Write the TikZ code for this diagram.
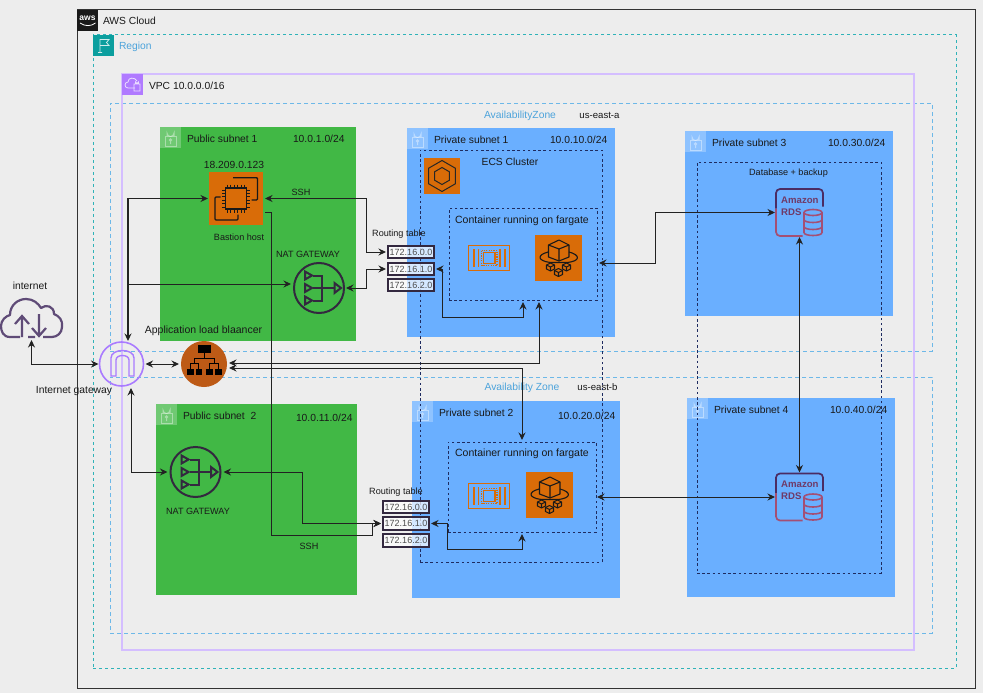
\documentclass[tikz,border=0pt]{standalone}
\usepackage{fontspec}
\setmainfont{Liberation Sans}
\usetikzlibrary{arrows.meta,shapes.geometric}
\definecolor{bgc}{HTML}{EDEDED}
\definecolor{greenc}{HTML}{41B845}
\definecolor{bluec}{HTML}{6AAFFF}
\definecolor{regionc}{HTML}{2FB2B8}
\definecolor{azc}{HTML}{6DB8E8}
\definecolor{vpcc}{HTML}{D4BEFF}
\definecolor{vpcfill}{HTML}{B07AFF}
\definecolor{tealc}{HTML}{0B9E9E}
\definecolor{labelb}{HTML}{4CA3DB}
\definecolor{orangec}{HTML}{D96C08}
\definecolor{albc}{HTML}{BD5A16}
\definecolor{natc}{HTML}{33283F}
\definecolor{cloudc}{HTML}{5F4B77}
\definecolor{igwc}{HTML}{A97BFF}
\definecolor{linec}{HTML}{222222}
\definecolor{dashc}{HTML}{1E2B60}
\definecolor{rdslow}{HTML}{A44F74}
\definecolor{rdsmid}{HTML}{6F3A68}
\definecolor{rdstop}{HTML}{4B2C63}
\newcommand\szt[1]{\fontsize{#1pt}{#1pt}\selectfont}
\newcommand\zonebox[6]{\node[#1,anchor=north west,minimum width=#4 pt,minimum height=#5 pt] (#2) at (#3) {#6};}
\tikzset{
  >={Stealth[length=7.5pt,width=7pt]},
  base/.style={inner sep=0pt,outer sep=0pt,rectangle},
  cloudbox/.style={base,draw=black!80,line width=1pt},
  regionbox/.style={base,draw=regionc,line width=1pt,dash pattern=on 3pt off 3pt},
  azbox/.style={base,draw=azc,line width=1pt,dash pattern=on 4pt off 3pt},
  vpcbox/.style={base,draw=vpcc,line width=1.4pt},
  pubnet/.style={base,fill=greenc},
  privnet/.style={base,fill=bluec},
  dashbox/.style={base,draw=dashc,line width=.9pt,dash pattern=on 2.6pt off 2.6pt},
  orangebox/.style={base,fill=orangec},
  lbl/.style={inner sep=0pt,outer sep=0pt,anchor=west,font=\szt{10.3},text=black!90},
  lblc/.style={inner sep=0pt,outer sep=0pt,font=\szt{10.3},text=black!90},
  lbls/.style={lblc,font=\szt{9.1}},
  azlbl/.style={lblc,text=labelb},
  rtbox/.style={base,draw=natc,line width=2pt,fill=white,fill opacity=.72,text opacity=1,minimum width=46pt,minimum height=12.5pt,font=\szt{9},text=black!70},
  conn/.style={draw=linec,line width=1pt},
  natnode/.style={circle,inner sep=0pt,outer sep=0pt,draw=natc,line width=2pt,minimum size=50pt},
  lockpic/.pic={
    \fill[white,opacity=.25] (0,0) rectangle (21,21);
    \draw[white,opacity=.4,line width=1pt] (5,9) rectangle (16,19);
    \draw[white,opacity=.4,line width=1pt] (7,9) -- (7,6) arc[start angle=180,end angle=360,radius=3.5,y radius=-3.5] -- (14,9);
    \draw[white,opacity=.4,line width=1pt] (10.5,13) circle (1.2) (10.5,14.2) -- (10.5,17);
  },
  natglyph/.pic={
    \begin{scope}[draw=natc,line width=2pt,line join=miter]
      \foreach \yy in {-12.5,0,12.5}{\draw (-14,\yy-4) -- (-7,\yy) -- (-14,\yy+4) -- cycle;}
      \draw (-6,-12.5) -- (3,-12.5) -- (3,12.5) -- (-6,12.5);
      \draw (-6,0) -- (15,0);
      \draw (15.5,-5) -- (22,0) -- (15.5,5) -- cycle;
    \end{scope}
  },
  chipglyph/.pic={
    \begin{scope}[draw=orangec,line width=1.6pt]
      \draw (-20.5,-12.5) rectangle (20.5,12.5);
      \draw (-15,-9) -- (-15,9) (-10.5,-9) -- (-10.5,9) (11,-9) -- (11,9) (16,-9) -- (16,9);
      \draw (-5.5,-5.5) rectangle (6,5.5);
      \draw[line width=1.6pt,dash pattern=on 1.2pt off 1.2pt] (-7.5,-7.5) rectangle (8,7.5);
    \end{scope}
  },
  fargateglyph/.pic={
    \begin{scope}[draw=black!90,line width=1.1pt,line join=round]
      \draw (0.5,-18) -- (-10,-13) -- (-10,-1) -- (0.5,3) -- (10.5,-1) -- (10.5,-13) -- cycle;
      \draw (-10,-13) -- (0.5,-9) -- (10.5,-13) (0.5,-9) -- (0.5,3);
      \draw (-10.5,-6) .. controls (-22,-3) and (-21,3) .. (-8,4.5) -- (9,4.5) .. controls (22,3) and (22,-3) .. (10.5,-6);
      \foreach \xx/\yy in {-8/9,8/9,0/14.5}{
        \draw[fill=orangec] (\xx,\yy-4) -- (\xx-4,\yy-2) -- (\xx-4,\yy+2) -- (\xx,\yy+4) -- (\xx+4,\yy+2) -- (\xx+4,\yy-2) -- cycle;
        \draw (\xx-4,\yy-2) -- (\xx,\yy) -- (\xx+4,\yy-2) (\xx,\yy) -- (\xx,\yy+4);
      }
    \end{scope}
  },
  rdsglyph/.pic={
    \draw[line width=1.7pt,draw=rdstop,rounded corners=4pt] (-23.5,-4) -- (-23.5,-23.5) -- (23.5,-23.5) -- (23.5,-6);
    \draw[line width=1.7pt,draw=rdslow,rounded corners=4pt] (3,23.5) -- (-23.5,23.5) -- (-23.5,-4);
    \node[inner sep=0pt,anchor=west,font=\szt{9.6}\bfseries,text=rdsmid] at (-18.5,-12.5) {Amazon};
    \node[inner sep=0pt,anchor=west,font=\szt{9.6}\bfseries,text=rdsmid] at (-18.5,-0.5) {RDS};
    \begin{scope}[draw=rdslow,line width=1.6pt]
      \draw (13.5,0) ellipse[x radius=9,y radius=3];
      \draw (4.5,0) -- (4.5,20) .. controls (4.5,24) and (22.5,24) .. (22.5,20) -- (22.5,0);
      \draw (4.5,7) .. controls (4.5,11) and (22.5,11) .. (22.5,7);
      \draw (4.5,14) .. controls (4.5,18) and (22.5,18) .. (22.5,14);
    \end{scope}
  },
}
\begin{document}
\begin{tikzpicture}[x=1pt,y=-1pt]
\useasboundingbox (0,0) rectangle (983,693);
\fill[bgc] (0,0) rectangle (983,693);

% containers
\zonebox{cloudbox}{cloud}{77,10}{898}{678}{}
\zonebox{regionbox}{region}{93,35}{863}{633}{}
\zonebox{azbox}{aza}{110,103}{822}{248}{}
\zonebox{azbox}{azb}{110,377}{822}{256}{}
\zonebox{vpcbox}{vpc}{122,74}{792}{576}{}

% subnets
\zonebox{pubnet}{pub1}{160,127}{196}{214}{}
\zonebox{pubnet}{pub2}{156,404}{201}{191}{}
\zonebox{privnet}{priv1}{407,128}{208}{209}{}
\zonebox{privnet}{priv2}{412,401}{208}{197}{}
\zonebox{privnet}{priv3}{685,131}{208}{185}{}
\zonebox{privnet}{priv4}{687,398}{208}{199}{}

% corner icons
\fill[black!90] (77,10) rectangle (98,31);
\node[inner sep=0pt,font=\szt{8.5}\bfseries,text=white] at (87.5,18) {aws};
\draw[white,line width=.8pt] (80,23) .. controls (85,26.5) and (91,26.5) .. (95.5,23);
\fill[tealc] (93,35) rectangle (114,56);
\draw[white,opacity=.8,line width=.8pt] (100,52) -- (100,39.5) -- (109,39.5) -- (106.5,42.5) -- (109,45.5) -- (100,45.5) (98,52.5) -- (102,52.5);
\fill[vpcfill] (122,74) rectangle (143,95);
\draw[white,opacity=.75,line width=.8pt] (135,88) -- (128,88) .. controls (124,88) and (124,82) .. (128,82) .. controls (128,77) and (135,77) .. (137,81);
\draw[white,opacity=.75,line width=.8pt] (134,84) rectangle (140,91) (135.5,84) -- (135.5,82) arc[start angle=180,end angle=360,radius=1.5,y radius=-1.5] -- (138.5,84);
\pic at (160,127) {lockpic};
\pic at (156,404) {lockpic};
\pic at (407,128) {lockpic};
\pic at (412,401) {lockpic};
\pic at (685,131) {lockpic};
\pic at (687,398) {lockpic};

% labels of containers
\node[lbl] at (103,20.5) {AWS Cloud};
\node[lbl,text=labelb] at (119,46.5) {Region};
\node[lbl] at (149,85.5) {VPC 10.0.0.0/16};
\node[azlbl] at (520,115.5) {AvailabilityZone};
\node[lbls,font=\szt{9.6}] at (599.5,115.5) {us-east-a};
\node[azlbl] at (522,387.5) {Availability Zone};
\node[lbls,font=\szt{9.6}] at (597.5,387.5) {us-east-b};
\node[lbl] at (187,138.5) {Public subnet 1};
\node[lbl] at (293,138.5) {10.0.1.0/24};
\node[lbl] at (183,415.5) {Public subnet\ \ 2};
\node[lbl] at (296,417.5) {10.0.11.0/24};
\node[lbl] at (434,139.5) {Private subnet 1};
\node[lbl] at (550,139.5) {10.0.10.0/24};
\node[lbl] at (439,412.5) {Private subnet 2};
\node[lbl] at (558,415.5) {10.0.20.0/24};
\node[lbl] at (712,142.5) {Private subnet 3};
\node[lbl] at (828,142.5) {10.0.30.0/24};
\node[lbl] at (714,409.5) {Private subnet 4};
\node[lbl] at (830,409.5) {10.0.40.0/24};

% dashed groups
\zonebox{dashbox}{ecsgroup}{420,150}{182}{412}{}
\zonebox{dashbox}{conta}{449,208}{148}{92}{}
\zonebox{dashbox}{contb}{448,442}{148}{90}{}
\zonebox{dashbox}{dbgroup}{697,162}{184}{411}{}
\node[lblc] at (510,161.5) {ECS Cluster};
\node[lblc,font=\szt{10.5}] at (522,220.5) {Container running on fargate};
\node[lblc,font=\szt{10.5}] at (522,453.5) {Container running on fargate};
\node[lbls] at (788.5,173.5) {Database + backup};

% icons as nodes
\zonebox{orangebox}{ec2}{209,172}{54}{53}{}
\begin{scope}[shift={(ec2.center)},draw=black!90]
  \draw[line width=1.4pt,fill=none] (-10.5,-10.5) rectangle (10.5,10.5);
  \foreach \tt in {-8.5,-5.1,-1.7,1.7,5.1,8.5}{
    \draw[line width=1pt] (\tt,-14) -- (\tt,-10.5) (\tt,10.5) -- (\tt,14) (-14,\tt) -- (-10.5,\tt) (10.5,\tt) -- (14,\tt);
  }
  \draw[line width=1.4pt,rounded corners=1pt] (-3,-20.8) -- (21.5,-20.8) -- (21.5,1.5) -- (15.5,1.5);
  \draw[line width=1.4pt,rounded corners=1pt] (-15.5,-1.5) -- (-21,-1.5) -- (-21,21.5) -- (2,21.5) -- (2,16);
\end{scope}
\zonebox{orangebox}{ecs}{424,158}{36}{36}{}
\node[regular polygon,regular polygon sides=6,shape border rotate=30,minimum size=31pt,inner sep=0pt,draw=black!85,line width=1pt] (ecsh) at (ecs.center) {};
\node[regular polygon,regular polygon sides=6,shape border rotate=30,minimum size=17pt,inner sep=0pt,draw=black!85,line width=1pt] (ecsi) at (ecs.center) {};
\zonebox{orangebox}{farga}{535,235}{47}{46}{}
\pic at (farga.center) {fargateglyph};
\zonebox{orangebox}{fargb}{526,472}{47}{46}{}
\pic at (fargb.center) {fargateglyph};
\pic at (489,258) {chipglyph};
\pic at (489,496) {chipglyph};
\node[lblc] at (234,164.5) {18.209.0.123};
\node[lbls] at (239,237.5) {Bastion host};

\node[natnode] (nata) at (319,288) {};
\pic at (nata.center) {natglyph};
\node[lbls] at (308,254.5) {NAT GATEWAY};
\node[natnode] (natb) at (195.5,472) {};
\pic at (natb.center) {natglyph};
\node[lbls] at (198,511.5) {NAT GATEWAY};

\node[circle,inner sep=0pt,outer sep=0pt,draw=igwc,line width=1.6pt,minimum size=44pt] (igw) at (121.5,364) {};
\draw[igwc,line width=1.4pt] (111,376) -- (111,358) .. controls (111,348) and (134,348) .. (134,358) -- (134,376) -- (129,376) -- (129,360) .. controls (129,354) and (116,354) .. (116,360) -- (116,376) -- cycle;
\node[lblc] at (74,391.5) {Internet gateway};

\node[circle,inner sep=0pt,outer sep=0pt,fill=albc,minimum size=46pt] (alb) at (204,364) {};
\fill[black] (197.7,345) rectangle (211,353);
\foreach \xa in {187,195.5,206,215}{\fill[black] (\xa,369) rectangle (\xa+6.5,375);}
\draw[black,line width=.9pt] (204,353) -- (204,358) (194,363) -- (194,358) -- (214,358) -- (214,363) (190,369) -- (190,363) -- (198,363) -- (198,369) (209,369) -- (209,363) -- (218,363) -- (218,369);
\node[lblc,font=\szt{10.5}] at (203.5,331) {Application load blaancer};

\node[base,minimum width=63pt,minimum height=40pt] (inet) at (31.5,318) {};
\draw[cloudc,line width=2.2pt,line join=round] (20,337) -- (10,337) .. controls (3,337) and (1,331) .. (1,326) .. controls (1,320) and (6,316) .. (10,315) .. controls (10,305) and (18,299) .. (26,299) .. controls (33,299) and (38,303) .. (41,308) .. controls (46,304) and (54,306) .. (54,314) .. controls (59,316) and (63,320) .. (62,327) .. controls (62,333) and (57,337) .. (52,337) -- (43,337);
\draw[cloudc,line width=2.2pt] (22,337) -- (22,316) (15,324) -- (22,316) -- (29,324) (39,314) -- (39,336) (32,328) -- (39,336) -- (46,328) (28,337) -- (35,337);
\node[lblc] at (30,285.5) {internet};

\node[base,minimum width=47pt,minimum height=47pt] (rdsa) at (799.5,212.5) {};
\pic at (rdsa.center) {rdsglyph};
\node[base,minimum width=47pt,minimum height=47pt] (rdsb) at (799.5,497) {};
\pic at (rdsb.center) {rdsglyph};

% routing tables
\node[rtbox] (rta1) at (411,252) {172.16.0.0};
\node[rtbox] (rta2) at (411,269) {172.16.1.0};
\node[rtbox] (rta3) at (411,285) {172.16.2.0};
\node[lbls] at (399,234.5) {Routing table};
\node[rtbox] (rtb1) at (406,507) {172.16.0.0};
\node[rtbox] (rtb2) at (406,523.5) {172.16.1.0};
\node[rtbox] (rtb3) at (406,540.5) {172.16.2.0};
\node[lbls] at (396,492.5) {Routing table};
\node[lbls] at (301,192) {SSH};
\node[lbls] at (309,546) {SSH};

% connectors
\draw[conn,<->] ([yshift=-2pt]inet.south) -- (31.5,364) -- ([xshift=-1pt]igw.west);
\draw[conn,<->] ([xshift=2pt]igw.east) -- ([xshift=-2pt]alb.west);
\draw[conn,<->,line width=1.3pt] ([xshift=6.5pt,yshift=1pt]igw.north) -- (128,198.5) -- ([xshift=-1pt]ec2.west);
\draw[conn,->] (128,284) -- ([xshift=-3pt,yshift=4pt]nata.west);
\draw[conn,<->] ([xshift=9.5pt,yshift=-2pt]igw.south) -- (131,472) -- ([xshift=-3pt]natb.west);
\draw[conn,<->] ([xshift=2pt,yshift=1pt]alb.east) -- (539,363) -- ([xshift=16pt,yshift=-2pt]conta.south);
\draw[conn,<->] ([xshift=2pt,yshift=-4pt]alb.east) -- (522,368) -- ([yshift=2pt]contb.north);
\draw[conn,<->] ([xshift=2pt]ec2.east) -- (366,198.5) -- (366,252) -- ([xshift=-2pt]rta1.west);
\draw[conn,->] ([xshift=2pt,yshift=-14pt]ec2.east) -- (271,212.5) -- (271,535) -- (372,535) -- (372,523.5) -- ([xshift=-2pt]rtb2.west);
\draw[conn,<->] ([xshift=2pt]nata.east) -- (366,288) -- (366,269) -- ([xshift=-2pt]rta2.west);
\draw[conn,<->] ([xshift=3pt]natb.east) -- (302,472) -- (302,523.5) -- ([xshift=-2pt]rtb2.west);
\draw[conn,<->] ([xshift=2pt]rta2.east) -- (442,269) -- (442,317) -- (523,317) -- ([yshift=-2pt]conta.south);
\draw[conn,<->] ([xshift=2pt]rtb2.east) -- (447,523.5) -- (447,549) -- (522,549) -- ([yshift=-2pt]contb.south);
\draw[conn,<->] ([xshift=2pt,yshift=-9pt]conta.east) -- (655,263) -- (655,212.5) -- ([xshift=-1pt]rdsa.west);
\draw[conn,<->] ([xshift=1pt,yshift=-10pt]contb.east) -- ([xshift=-1pt]rdsb.west);
\draw[conn,<->] ([yshift=-1pt]rdsa.south) -- ([yshift=1pt]rdsb.north);
\end{tikzpicture}
\end{document}
